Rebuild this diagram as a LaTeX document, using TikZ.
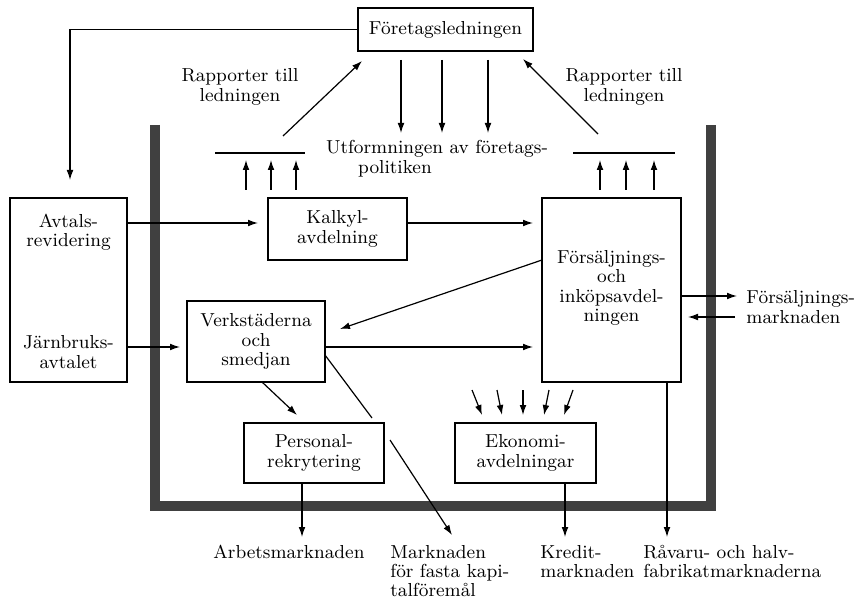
\documentclass[tikz,border=0pt]{standalone}
\usetikzlibrary{arrows.meta}
\begin{document}
\begin{tikzpicture}[x=0.5pt,y=-0.5pt,
  txt/.style={inner sep=0pt,align=center,font=\fontsize{9.4}{9.6}\selectfont},
  box/.style={draw,line width=1pt,inner sep=0pt},
  ln/.style={line width=0.6pt},
  arr/.style={line width=0.6pt,-{Latex[length=5pt,width=3.4pt]}},
  frame/.style={line width=5pt,draw=black!75}]
\useasboundingbox (0,0) rectangle (861,604);
% frame
\draw[frame] (155,125) -- (155,506) -- (711,506) -- (711,125);
% boxes
\node[box,minimum width=87.5pt,minimum height=21.5pt] (lead) at (445.5,29.5) {};
\node[txt] (leadt) at (445.5,30) {Företagsledningen};
\node[box,minimum width=58.5pt,minimum height=92pt] (avt) at (68.5,290) {};
\node[txt] (avt1) at (68.5,232) {Avtals-\\revidering};
\node[txt] (avt2) at (68.5,352) {Järnbruks-\\avtalet};
\node[box,minimum width=69.5pt,minimum height=31pt,txt,draw,line width=1pt] (kal) at (337.5,229) {Kalkyl-\\avdelning};
\node[box,minimum width=69.5pt,minimum height=92pt] (fors) at (611.5,290) {};
\node[txt] (forst) at (611.5,288) {Försäljnings-\\och\\inköpsavdel-\\ningen};
\node[box,minimum width=69pt,minimum height=40.5pt,txt,draw,line width=1pt] (verk) at (256,341.5) {Verkstäderna\\och\\smedjan};
\node[box,minimum width=70pt,minimum height=30pt,txt,draw,line width=1pt] (pers) at (314,453) {Personal-\\rekrytering};
\node[box,minimum width=70.5pt,minimum height=30pt,txt,draw,line width=1pt] (eko) at (525.5,453) {Ekonomi-\\avdelningar};
% texts
\node[txt] (rap1) at (240,87) {Rapporter till\\ledningen};
\node[txt] (rap2) at (624,87) {Rapporter till\\ledningen};
\node[txt] (utf1) at (437,149) {Utformningen av företags-};
\node[txt] (utf2) at (395,169) {politiken};
\node[txt,anchor=west,align=left] (fm) at (746,307) {Försäljnings-\\marknaden};
\node[txt,anchor=north] (arb) at (289,545) {Arbetsmarknaden};
\node[txt,anchor=north west,align=left] (kap) at (390,545) {Marknaden\\för fasta kapi-\\talföremål};
\node[txt,anchor=north west,align=left] (kre) at (540,545) {Kredit-\\marknaden};
\node[txt,anchor=north west,align=left] (rav) at (643,545) {Råvaru- och halv-\\fabrikatmarknaderna};
% policy lines
\coordinate (pl1) at (215,153); \coordinate (pl2) at (305,153);
\coordinate (pr1) at (573,153); \coordinate (pr2) at (675,153);
\draw[ln] (pl1) -- (pl2);
\draw[ln] (pr1) -- (pr2);
\foreach \x in {246,271,296,600,626,654} \draw[arr] (\x,190) -- (\x,160);
\foreach \x in {401,442,488} \draw[arr] (\x,60) -- (\x,133);
% reports
\draw[arr] (283,136) -- (362,61);
\draw[arr] (598,134) -- (523,59);
% top feedback
\coordinate (fb) at (70,180);
\draw[arr] (lead.west) -| (fb);
% main flows
\draw[arr] (127,223) -- (258,223);
\draw[arr] (407,223) -- (533,223);
\draw[arr] (127,347) -- (180,347);
\draw[arr] (542,260) -- (340,329);
\draw[arr] (325,347) -- (533,347);
\draw[arr] (681,296) -- (737,296);
\draw[arr] (735,317) -- (688,317);
\draw[arr] (262,382) -- (297,415);
\draw[ln] (325,355) -- (372,418);
\draw[arr] (390,440) -- (452,535);
\draw[arr] (302,483) -- (302,537);
\draw[arr] (472,390) -- (482,415);
\draw[arr] (497,390) -- (502,415);
\draw[arr] (523,390) -- (523,415);
\draw[arr] (549,390) -- (544,415);
\draw[arr] (573,390) -- (564,415);
\draw[arr] (565,483) -- (565,537);
\draw[arr] (667,382) -- (667,537);
\end{tikzpicture}
\end{document}
